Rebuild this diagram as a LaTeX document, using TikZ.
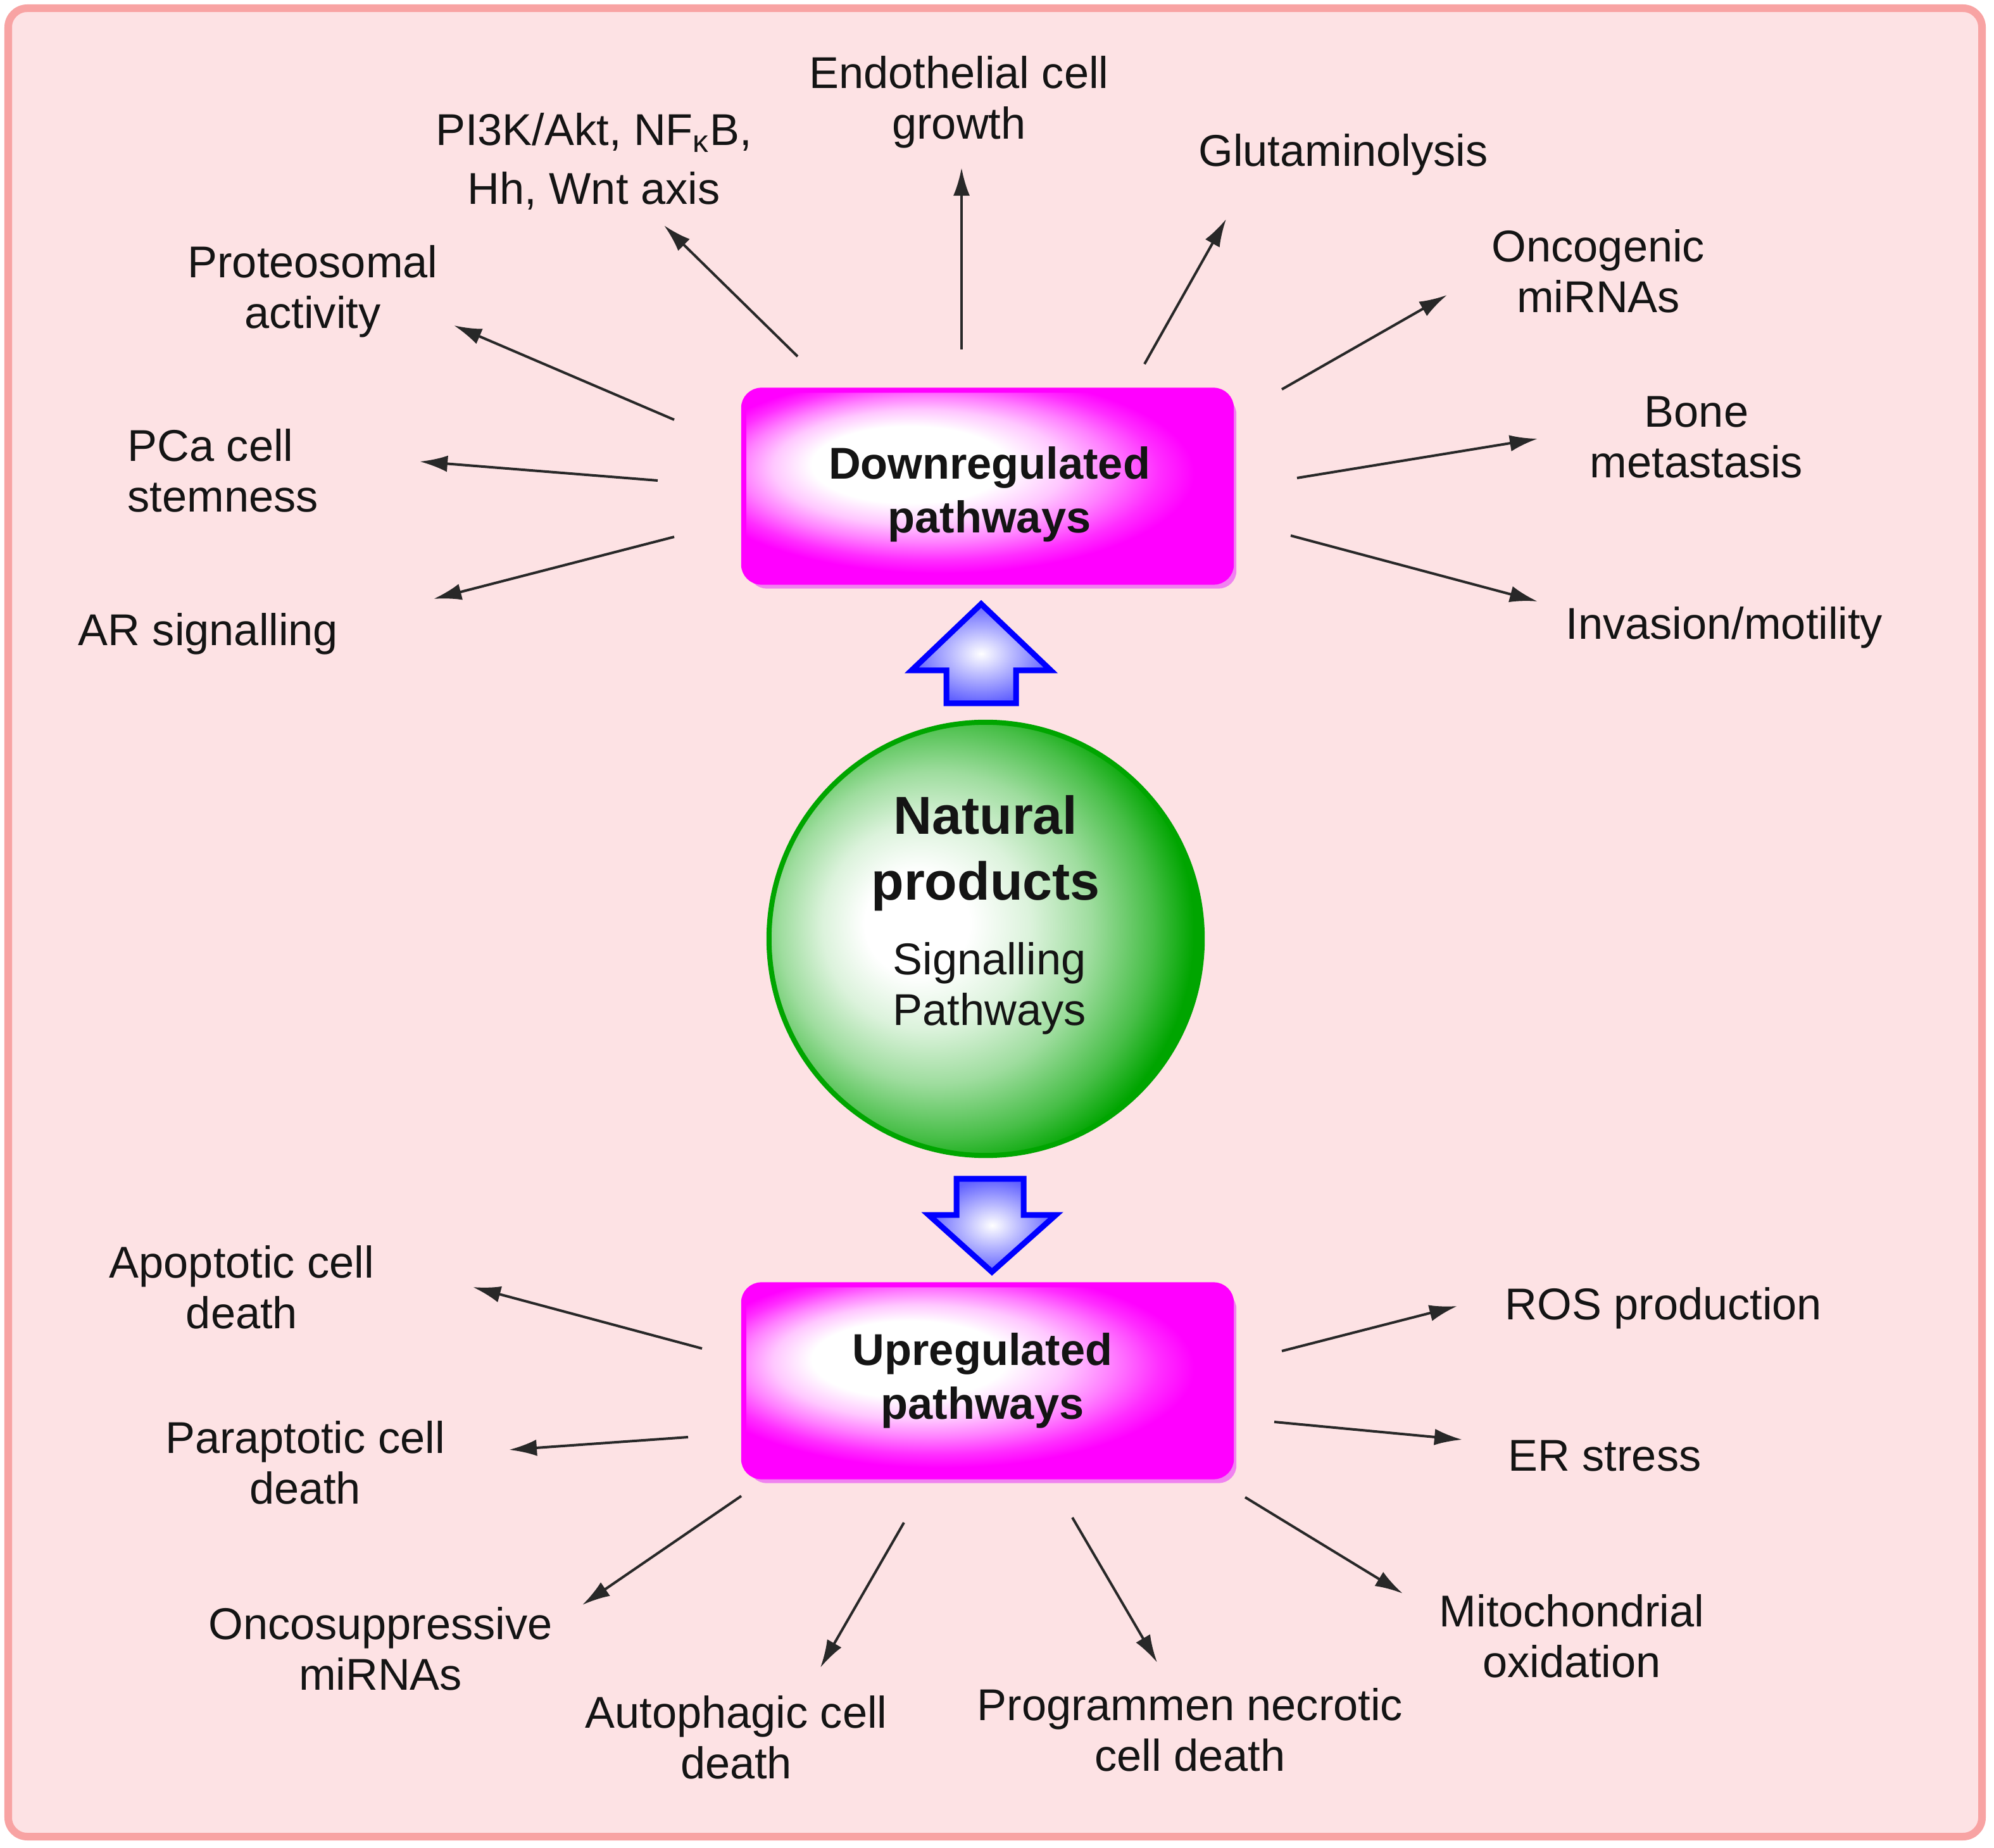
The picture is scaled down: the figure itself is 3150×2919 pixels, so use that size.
\documentclass[tikz,border=0pt]{standalone}
\usepackage{fontspec}
\setmainfont{Liberation Sans}
\usetikzlibrary{arrows.meta,shadows}
\definecolor{bgpink}{RGB}{253,226,228}
\definecolor{borderpink}{RGB}{248,163,163}
\definecolor{mag}{RGB}{255,0,255}
\definecolor{magshadow}{RGB}{240,130,240}
\definecolor{txt}{RGB}{20,20,20}
\definecolor{arr}{RGB}{40,40,40}
\definecolor{sgreen}{RGB}{0,165,0}
\definecolor{pureblue}{RGB}{0,0,255}
\colorlet{magA}{mag!22!white}
\colorlet{magB}{mag!50!white}
\colorlet{magC}{mag!82!white}
\colorlet{gA}{sgreen!14!white}
\colorlet{gB}{sgreen!38!white}
\colorlet{gC}{sgreen!72!white}
\colorlet{blueA}{pureblue!62!white}
\pgfdeclareradialshading{boxshade}{\pgfpoint{-10bp}{7bp}}{color(0bp)=(white); color(10bp)=(white); color(15bp)=(magA); color(19bp)=(magB); color(23bp)=(magC); color(26bp)=(mag); color(50bp)=(mag)}
\pgfdeclareradialshading{sphereshade}{\pgfpoint{-9bp}{2bp}}{color(0bp)=(white); color(6bp)=(white); color(12bp)=(gA); color(18bp)=(gB); color(24bp)=(gC); color(28bp)=(sgreen); color(50bp)=(sgreen)}
\tikzset{
  lbl/.style={font=\fontsize{20}{22.8}\selectfont, align=center, text=txt, inner sep=0pt},
  boxtxt/.style={text=txt, align=center, inner sep=0pt, font=\bfseries\fontsize{20}{24}\selectfont},
  ptr/.style={-{Latex[length=0.44cm,width=0.26cm]}, line width=0.04cm, draw=arr},
  magbox/.style={rectangle, rounded corners=0.28cm, minimum width=7.7cm, minimum height=3.03cm,
    shading=boxshade, draw=mag, line width=0.08cm,
    drop shadow={shadow xshift=0.08cm, shadow yshift=-0.1cm, fill=magshadow, opacity=1}},
  sphere/.style={circle, minimum size=6.84cm, inner sep=0pt, shading=sphereshade, draw=sgreen, line width=0.08cm},
  blockarrow/.style={draw=pureblue, line width=0.09cm, inner color=white, outer color=blueA, line join=miter}
}
\begin{document}
\begin{tikzpicture}[x=0.01cm, y=-0.01cm]
\useasboundingbox (0,0) rectangle (3150,2919);
\fill[white] (0,0) rectangle (3150,2919);
\draw[borderpink, line width=0.12cm, fill=bgpink, rounded corners=0.3cm] (13,13) rectangle (3131,2901);

% central boxes
\node[magbox] (down) at (1560,768) {};
\node[boxtxt] (downtxt) at (1563,781) {Downregulated\\pathways};
\node[magbox] (up) at (1560,2181) {};
\node[boxtxt] (uptxt) at (1552,2181) {Upregulated\\pathways};
\node[sphere] (np) at (1557,1483) {};
\node[text=txt, align=center, inner sep=0pt, font=\bfseries\fontsize{24}{29.6}\selectfont] (nptxt) at (1557,1348) {Natural\\products};
\node[lbl] (sptxt) at (1563,1561) {Signalling\\Pathways};

% block arrows
\shadedraw[blockarrow] (1550,954) -- (1660,1059) -- (1605,1059) -- (1605,1111) -- (1495,1111) -- (1495,1059) -- (1440,1059) -- cycle;
\shadedraw[blockarrow] (1511,1862) -- (1617,1862) -- (1617,1919) -- (1668,1919) -- (1567,2009) -- (1467,1919) -- (1511,1919) -- cycle;

% labels top
\node[lbl] (lProt) at (494,460) {Proteosomal\\activity};
\node[lbl, font=\fontsize{20}{26.2}\selectfont] (lPI3K) at (938,255) {PI3K/Akt, NF\textsubscript{κ}B,\\Hh, Wnt axis};
\node[lbl] (lEndo) at (1515,161) {Endothelial cell\\growth};
\node[lbl] (lGlut) at (2122,244) {Glutaminolysis};
\node[lbl] (lOnco) at (2525,428) {Oncogenic\\miRNAs};
\node[lbl] (lBone) at (2680,691) {Bone\\metastasis};
\node[lbl] (lInv) at (2724,991) {Invasion/motility};
\node[lbl, anchor=west, align=left] (lPCa) at (201,743) {PCa cell\\stemness};
\node[lbl] (lAR) at (329,1001) {AR signalling};
% labels bottom
\node[lbl] (lApo) at (382,2033) {Apoptotic cell\\death};
\node[lbl] (lPara) at (482,2310) {Paraptotic cell\\death};
\node[lbl] (lOncoS) at (601,2604) {Oncosuppressive\\miRNAs};
\node[lbl] (lAuto) at (1163,2744) {Autophagic cell\\death};
\node[lbl] (lProg) at (1880,2732) {Programmen necrotic\\cell death};
\node[lbl] (lMito) at (2483,2584) {Mitochondrial\\oxidation};
\node[lbl] (lROS) at (2628,2066) {ROS production};
\node[lbl] (lER) at (2535,2300) {ER stress};

% arrow end points
\coordinate (s1) at (1065,663);  \coordinate (e1) at (717,514);
\coordinate (s2) at (1260,563);  \coordinate (e2) at (1049,356);
\coordinate (s3) at (1519,552);  \coordinate (e3) at (1519,265);
\coordinate (s4) at (1808,575);  \coordinate (e4) at (1937,346);
\coordinate (s5) at (2025,615);  \coordinate (e5) at (2286,466);
\coordinate (s6) at (2049,755);  \coordinate (e6) at (2429,693);
\coordinate (s7) at (2039,846);  \coordinate (e7) at (2429,950);
\coordinate (s8) at (1039,759);  \coordinate (e8) at (663,729);
\coordinate (s9) at (1065,848);  \coordinate (e9) at (685,946);
\coordinate (s10) at (1109,2130); \coordinate (e10) at (747,2033);
\coordinate (s11) at (1087,2270); \coordinate (e11) at (804,2290);
\coordinate (s12) at (1171,2363); \coordinate (e12) at (920,2535);
\coordinate (s13) at (1428,2405); \coordinate (e13) at (1296,2634);
\coordinate (s14) at (1694,2397); \coordinate (e14) at (1828,2626);
\coordinate (s15) at (1967,2365); \coordinate (e15) at (2216,2517);
\coordinate (s16) at (2025,2134); \coordinate (e16) at (2302,2063);
\coordinate (s17) at (2013,2246); \coordinate (e17) at (2310,2274);

\foreach \i in {1,...,17} { \draw[ptr] (s\i) -- (e\i); }
\end{tikzpicture}
\end{document}
